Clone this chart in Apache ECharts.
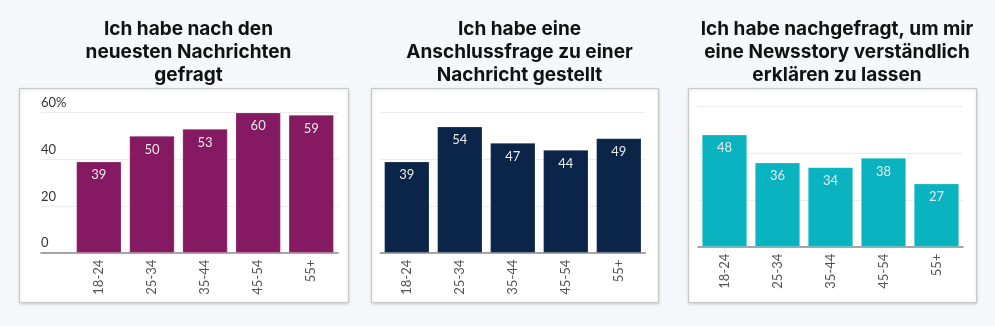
<!DOCTYPE html>
<html>
<head>
<meta charset="utf-8">
<script src="https://cdn.jsdelivr.net/npm/echarts@6/dist/echarts.min.js"></script>
<style>
  html, body { margin: 0; padding: 0; background: #f6f7fb; }
  #chart { width: 995px; height: 326px; }
</style>
</head>
<body>
<div id="chart"></div>
<script>
// Age groups shared by all three panels
const ageGroups = ['18-24', '25-34', '35-44', '45-54', '55+'];

// Share of respondents (%) per age group
const latestNews = [39, 50, 53, 60, 59];
const followUpQuestion = [39, 54, 47, 44, 49];
const explainStory = [48, 36, 34, 38, 27];

// Y axis ticks (percent)
const yTicks = [0, 20, 40, 60];

const panelTitles = [
  'Ich habe nach den\nneuesten Nachrichten\ngefragt',
  'Ich habe eine\nAnschlussfrage zu einer\nNachricht gestellt',
  'Ich habe nachgefragt, um mir\neine Newsstory verständlich\nerklären zu lassen'
];

const colors = ['#861a62', '#0b2548', '#09b4c0'];
const font = 'Lato, "Noto Sans", sans-serif';

const chart = echarts.init(document.getElementById('chart'), null, { renderer: 'canvas' });

// Panel frames: [x0, x1]
const panels = [[19, 348], [371, 658], [688, 976]];
const panelTop = 88, panelBottom = 302;

// plot areas: left, width, top (all 140 px tall, 0..60)
const grids = [
  { left: 41, width: 297, top: 112.7, height: 140 },     // panel 1 gridlines / y labels
  { left: 72.3, width: 265.5, top: 112.7, height: 140 }, // panel 1 bars
  { left: 380.3, width: 265, top: 112.7, height: 140 },  // panel 2
  { left: 698, width: 265, top: 106.7, height: 140 }     // panel 3
];

const splitLine = { show: true, lineStyle: { color: '#ececec', width: 1 } };
const axisLine = { show: true, lineStyle: { color: '#8a8a8a', width: 1.5 } };

function catAxis(gridIndex, showLabels, showLine) {
  return {
    type: 'category',
    gridIndex,
    data: ageGroups,
    axisLine: showLine ? axisLine : { show: false },
    axisTick: { show: false },
    axisLabel: showLabels ? {
      rotate: 90, margin: 7, color: '#555', fontSize: 13, fontFamily: font
    } : { show: false }
  };
}

function valAxis(gridIndex, showLabels, showSplit) {
  return {
    type: 'value',
    gridIndex,
    min: 0, max: 60, interval: 20,
    axisLine: { show: false },
    axisTick: { show: false },
    splitLine: showSplit ? splitLine : { show: false },
    axisLabel: showLabels ? {
      inside: true, align: 'left', verticalAlign: 'bottom', margin: 0,
      padding: [0, 0, 3, 0],
      color: '#333', fontSize: 13, fontFamily: font,
      formatter: v => (yTicks.indexOf(v) >= 0 ? (v === 60 ? v + '%' : String(v)) : '')
    } : { show: false }
  };
}

function barSeries(idx, data, color) {
  return {
    type: 'bar',
    xAxisIndex: idx, yAxisIndex: idx,
    data,
    barWidth: 45,
    itemStyle: { color, borderColor: 'rgba(255,255,255,0.35)', borderWidth: 0.6 },
    label: {
      show: true, position: 'insideTop', distance: 7,
      color: '#e8e8e8', fontSize: 13, fontFamily: font
    },
    silent: true
  };
}

const graphic = panels.map(([x0, x1]) => ({
  type: 'rect',
  z: -10,
  shape: { x: x0 + 0.5, y: panelTop + 0.5, width: x1 - x0, height: panelBottom - panelTop },
  style: {
    fill: '#ffffff', stroke: '#c9c9c9', lineWidth: 1,
    shadowBlur: 3, shadowColor: 'rgba(0,0,0,0.18)', shadowOffsetY: 1
  }
}));

const titles = panelTitles.map((t, i) => ({
  text: t,
  left: (panels[i][0] + panels[i][1]) / 2,
  top: 12.5,
  textAlign: 'center',
  textStyle: {
    fontFamily: 'Inter, "Noto Sans", sans-serif', fontWeight: 'bold',
    fontSize: 19, lineHeight: 23.3, color: '#111'
  }
}));

chart.setOption({
  backgroundColor: '#f6f7fb',
  animation: false,
  graphic,
  title: titles,
  grid: grids,
  xAxis: [
    catAxis(0, false, true),
    catAxis(1, true, false),
    catAxis(2, true, true),
    catAxis(3, true, true)
  ],
  yAxis: [
    valAxis(0, true, true),
    valAxis(1, false, false),
    valAxis(2, false, true),
    valAxis(3, false, true)
  ],
  series: [
    barSeries(1, latestNews, colors[0]),
    barSeries(2, followUpQuestion, colors[1]),
    barSeries(3, explainStory, colors[2])
  ]
});
</script>
</body>
</html>
